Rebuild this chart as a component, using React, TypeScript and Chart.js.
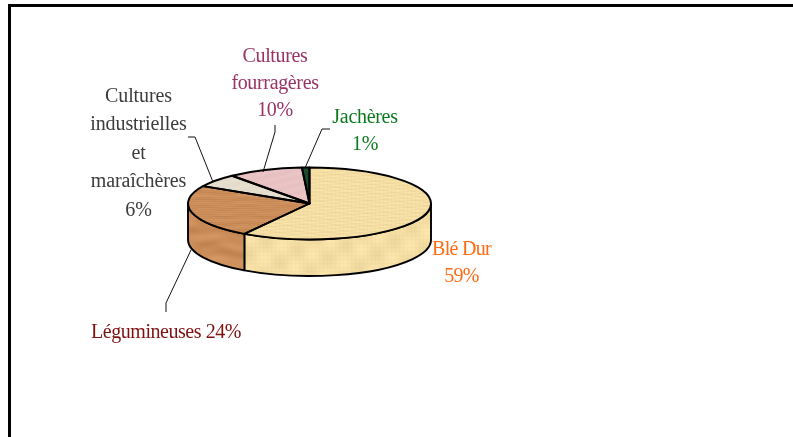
import React, { useEffect, useRef } from "react";
import { Chart, registerables } from "chart.js";

Chart.register(...registerables);

const categories = ["Blé Dur", "Légumineuses", "Cultures industrielles et maraîchères", "Cultures fourragères", "Jachères"];
const shares = [59, 24, 6, 10, 1];
const labelLines = [
  ["Blé Dur", "59%"],
  ["Légumineuses 24%"],
  ["Cultures", "industrielles", "et", "maraîchères", "6%"],
  ["Cultures", "fourragères", "10%"],
  ["Jachères", "1%"],
];
const labelColors = ["#FF6A13", "#7F1010", "#3C3C3C", "#993366", "#0B7A1E"];
const sliceColors = ["#F4DEA4", "#CB8E5B", "#E5DDCD", "#E9C2C4", "#1B4A2C"];

// Layout of the annotations (not data)
const labelAnchors: [number, number, number, number][] = [
  [461.5, 255, 26.5, -0.7],
  [166, 338, 28, -0.45],
  [138.5, 102, 28.4, -0.1],
  [275, 62, 26.8, -0.35],
  [365, 123, 27, -0.3],
];
const leaders: ([number, number][] | null)[] = [
  null,
  [[191, 250], [166, 303], [166, 312]],
  [[188, 137], [195, 137], [213, 182]],
  [[275, 125], [275, 132], [263, 172]],
  [[330, 129], [322, 129], [305, 168]],
];

const CX = 309.5;
const CY = 203.5;
const RX = 121.5;
const RY = 36;
const DEPTH = 36.5;
const OUTLINE = 1.9;

function shade(hex: string, d: number) {
  const n = parseInt(hex.slice(1), 16);
  const c = (v: number) => Math.max(0, Math.min(255, Math.round(v + d)));
  return `rgb(${c((n >> 16) & 255)},${c((n >> 8) & 255)},${c(n & 255)})`;
}

// Deterministic paper weave / wood grain tiles; yf scales the vertical frequency
function texture(hex: string, kind: "paper" | "wood" | "plain", yf: number) {
  const size = 128;
  const cv = document.createElement("canvas");
  cv.width = size;
  cv.height = size;
  const g = cv.getContext("2d")!;
  const k = (2 * Math.PI) / size;
  for (let y = 0; y < size; y++) {
    for (let x = 0; x < size; x++) {
      let d = 0;
      if (kind === "paper") {
        d =
          1.5 * Math.sin(k * 32 * x) +
          1.5 * Math.sin(k * 32 * yf * y) +
          4 * Math.sin(k * 3 * x + k * 4 * yf * y) +
          3 * Math.sin(k * 5 * x - k * 3 * yf * y);
      } else if (kind === "wood") {
        d =
          6 * Math.sin(k * 6 * yf * y + 1.4 * Math.sin(k * 2 * x)) +
          4 * Math.sin(k * 11 * yf * y + Math.sin(k * 3 * x)) +
          2 * Math.sin(k * 2 * yf * y);
      } else {
        d = 2 * Math.sin(k * 4 * x + k * 5 * y);
      }
      g.fillStyle = shade(hex, d);
      g.fillRect(x, y, 1, 1);
    }
  }
  return g.createPattern(cv, "repeat")!;
}

const kinds: ("paper" | "wood" | "plain")[] = ["paper", "wood", "plain", "plain", "plain"];

const pie3d = {
  id: "pie3d",
  beforeDatasetDraw(chart: any) {
    const ctx = chart.ctx as CanvasRenderingContext2D;
    const arcs = chart.getDatasetMeta(0).data;
    ctx.save();
    ctx.strokeStyle = "#000";
    ctx.lineWidth = OUTLINE;
    ctx.lineJoin = "round";
    arcs.forEach((a: any, i: number) => {
      const s = Math.max(a.startAngle, 0);
      const e = Math.min(a.endAngle, Math.PI);
      if (e <= s) return;
      ctx.beginPath();
      ctx.ellipse(CX, CY, RX, RY, 0, s, e);
      ctx.ellipse(CX, CY + DEPTH, RX, RY, 0, e, s, true);
      ctx.closePath();
      ctx.fillStyle = texture(sliceColors[i], kinds[i], 1);
      ctx.fill();
      ctx.stroke();
    });
    ctx.restore();
    ctx.save();
    ctx.translate(CX, CY);
    ctx.scale(1, RY / RX);
    ctx.translate(-CX, -CY);
  },
  afterDatasetDraw(chart: any) {
    const ctx = chart.ctx as CanvasRenderingContext2D;
    ctx.restore();
    const arcs = chart.getDatasetMeta(0).data;
    ctx.save();
    ctx.strokeStyle = "#000";
    ctx.lineWidth = OUTLINE;
    ctx.lineJoin = "round";
    arcs.forEach((a: any) => {
      ctx.beginPath();
      ctx.moveTo(CX, CY);
      ctx.ellipse(CX, CY, RX, RY, 0, a.startAngle, a.endAngle);
      ctx.closePath();
      ctx.stroke();
    });
    ctx.restore();
  },
  afterDraw(chart: any) {
    const ctx = chart.ctx as CanvasRenderingContext2D;
    ctx.save();
    ctx.strokeStyle = "#111";
    ctx.lineWidth = 1;
    leaders.forEach((pts) => {
      if (!pts) return;
      ctx.beginPath();
      pts.forEach(([x, y], j) => (j ? ctx.lineTo(x, y) : ctx.moveTo(x, y)));
      ctx.stroke();
    });
    ctx.font = '20px "Liberation Serif"';
    ctx.textAlign = "center";
    ctx.textBaseline = "alphabetic";
    labelLines.forEach((lines, i) => {
      const [x, y, step, spacing] = labelAnchors[i];
      (ctx as any).letterSpacing = `${spacing}px`;
      ctx.fillStyle = labelColors[i];
      lines.forEach((t, j) => ctx.fillText(t, x, y + j * step));
    });
    ctx.restore();
  },
};

export default function App() {
  const ref = useRef<HTMLCanvasElement>(null);
  useEffect(() => {
    const chart = new Chart(ref.current!, {
      type: "pie",
      data: {
        labels: categories,
        datasets: [
          {
            data: shares,
            backgroundColor: sliceColors.map((c, i) => texture(c, kinds[i], 3)),
            borderWidth: 0,
            clip: false,
          } as any,
        ],
      },
      options: {
        responsive: false,
        animation: false,
        layout: {
          padding: {
            left: CX - RX,
            right: 793 - CX - RX,
            top: CY - RX,
            bottom: 437 - CY - RX,
          },
        },
        plugins: { legend: { display: false }, tooltip: { enabled: false } },
      },
      plugins: [pie3d],
    });
    return () => chart.destroy();
  }, []);
  return (
    <div style={{ position: "fixed", left: 0, top: 0, width: 793, height: 437, overflow: "hidden", background: "#fff" }}>
      <canvas ref={ref} width={793} height={437} style={{ position: "absolute", left: 0, top: 0 }} />
      <div style={{ position: "absolute", left: 8, top: 4, width: 785, height: 3, background: "#000" }} />
      <div style={{ position: "absolute", left: 8, top: 4, width: 3, height: 433, background: "#000" }} />
    </div>
  );
}
